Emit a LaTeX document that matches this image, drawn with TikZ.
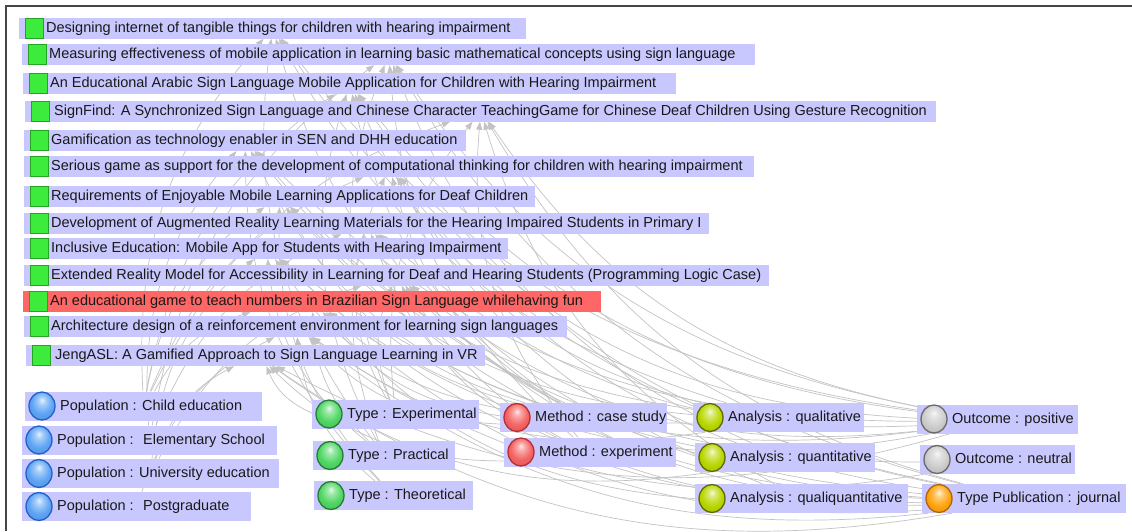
\documentclass[tikz,border=0pt]{standalone}
\usepackage{fontspec}
\setmainfont{Liberation Sans}
\usetikzlibrary{shapes.geometric,arrows.meta,shadings}
\pgfdeclarelayer{bg}
\pgfsetlayers{bg,main}
\definecolor{lav}{RGB}{200,200,255}
\definecolor{redbox}{RGB}{255,102,102}
\definecolor{sqgreen}{RGB}{60,235,60}
\definecolor{sqdark}{RGB}{35,165,35}
\definecolor{edgegray}{RGB}{195,195,195}
\definecolor{framecol}{RGB}{70,70,70}
\definecolor{txtcol}{RGB}{25,25,25}
\definecolor{cblue}{RGB}{95,165,245}\definecolor{bblue}{RGB}{35,95,200}
\definecolor{cgreen}{RGB}{80,215,100}\definecolor{bgreen}{RGB}{35,125,50}
\definecolor{cred}{RGB}{245,100,100}\definecolor{bred}{RGB}{185,45,45}
\definecolor{cyel}{RGB}{185,215,0}\definecolor{byel}{RGB}{95,105,0}
\definecolor{cgray}{RGB}{205,205,205}\definecolor{bgray}{RGB}{105,105,105}
\definecolor{corange}{RGB}{255,165,15}\definecolor{borange}{RGB}{180,100,0}
\colorlet{ballc}{cblue}
\pgfdeclareradialshading[ballc]{gloss}{\pgfpoint{0bp}{11bp}}{%
  color(0bp)=(ballc!15!white); color(7bp)=(ballc!55!white); color(20bp)=(ballc);
  color(34bp)=(ballc!88!black); color(50bp)=(ballc!88!black)}
\tikzset{
  paper/.style={rectangle, anchor=west, inner sep=0pt, minimum height=21},
  sqicon/.style={rectangle, inner sep=0pt, minimum width=18, minimum height=20, fill=sqgreen, draw=sqdark, line width=0.8pt},
  txt/.style={anchor=west, inner sep=0pt, text height=11pt, text depth=3pt, text=txtcol},
  orb/.style={ellipse, inner sep=0pt, minimum width=26, minimum height=28, line width=1.3pt},
  oblue/.style={orb, draw=bblue, /utils/exec={\colorlet{ballc}{cblue}}, shading=gloss},
  ogreen/.style={orb, draw=bgreen, /utils/exec={\colorlet{ballc}{cgreen}}, shading=gloss},
  ored/.style={orb, draw=bred, /utils/exec={\colorlet{ballc}{cred}}, shading=gloss},
  oyel/.style={orb, draw=byel, /utils/exec={\colorlet{ballc}{cyel}}, shading=gloss},
  ogray/.style={orb, draw=bgray, /utils/exec={\colorlet{ballc}{cgray}}, shading=gloss},
  oorange/.style={orb, draw=borange, /utils/exec={\colorlet{ballc}{corange}}, shading=gloss},
  edge/.style={draw=edgegray, line width=0.7pt, -{Triangle[length=8pt,width=6pt,fill=edgegray]}},
}
\newcommand\mkpaper[6][lav]{%
  \node[paper, fill=#1, minimum width=#5] (#2) at (#3,#4) {};
  \node[sqicon] (#2s) at ([xshift=15pt]#2.west) {};
  \node[txt] (#2t) at ([xshift=27pt]#2.west) {#6};
}
\newcommand\mkattr[6]{%
  \node[paper, fill=lav, minimum width=#4, minimum height=29] (#1) at (#2,#3) {};
  \node[#5] (#1b) at ([xshift=17pt]#1.west) {};
  \node[txt] (#1t) at ([xshift=35pt]#1.west) {#6};
}
\begin{document}
\begin{tikzpicture}[x=1pt, y=-1pt, font=\fontsize{14.5}{17}\selectfont]
\useasboundingbox (0,0) rectangle (1132,531);
\begin{pgfonlayer}{bg}
\fill[white] (0,0) rectangle (1132,531);
\end{pgfonlayer}
\draw[framecol, line width=1.5pt] (6,531) -- (6,6) -- (1132,6);

% papers
\mkpaper{p1}{19}{28}{507}{Designing internet of tangible things for children with hearing impairment}
\mkpaper{p2}{22}{54.5}{733}{Measuring effectiveness of mobile application in learning basic mathematical concepts using sign language}
\mkpaper{p3}{23}{83.5}{653}{An Educational Arabic Sign Language Mobile Application for Children with Hearing Impairment}
\mkpaper{p4}{25}{111}{911}{\hspace*{2pt}SignFind: A Synchronized Sign Language and Chinese Character TeachingGame for Chinese Deaf Children Using Gesture Recognition}
\mkpaper{p5}{24}{140.5}{442}{Gamification as technology enabler in SEN and DHH education}
\mkpaper{p6}{24}{166.5}{730}{Serious game as support for the development of computational thinking for children with hearing impairment}
\mkpaper{p7}{24}{196.5}{511}{Requirements of Enjoyable Mobile Learning Applications for Deaf Children}
\mkpaper{p8}{24}{223.5}{685}{Development of Augmented Reality Learning Materials for the Hearing Impaired Students in Primary I}
\mkpaper{p9}{24}{248.5}{484}{Inclusive Education: Mobile App for Students with Hearing Impairment}
\mkpaper{p10}{24}{275}{745}{Extended Reality Model for Accessibility in Learning for Deaf and Hearing Students (Programming Logic Case)}
\mkpaper[redbox]{p11}{23}{301.5}{578}{An educational game to teach numbers in Brazilian Sign Language whilehaving fun}
\mkpaper{p12}{24}{326.5}{543}{Architecture design of a reinforcement environment for learning sign languages}
\mkpaper{p13}{26}{355.5}{459}{\hspace*{2pt}JengASL: A Gamified Approach to Sign Language Learning in VR}

% attributes
\mkattr{pc}{25}{406}{237}{oblue}{Population : Child education}
\mkattr{pe}{22}{440}{255}{oblue}{Population :~ Elementary School}
\mkattr{pu}{22}{473.5}{257}{oblue}{Population : University education}
\mkattr{pg}{22}{506.5}{229}{oblue}{Population :~ Postgraduate}
\mkattr{te}{312}{414}{167}{ogreen}{Type : Experimental}
\mkattr{tp}{313}{455.5}{142}{ogreen}{Type : Practical}
\mkattr{tt}{314}{495.5}{159}{ogreen}{Type : Theoretical}
\mkattr{mc}{500}{417.5}{167}{ored}{Method : case study}
\mkattr{mx}{504}{452}{172}{ored}{Method : experiment}
\mkattr{aql}{693}{417.5}{171}{oyel}{Analysis : qualitative}
\mkattr{aqt}{695}{457.5}{180}{oyel}{Analysis : quantitative}
\mkattr{aqq}{695}{498.5}{213}{oyel}{Analysis : qualiquantitative}
\mkattr{op}{917}{419}{161}{ogray}{Outcome : positive}
\mkattr{on}{920}{459.5}{155}{ogray}{Outcome : neutral}
\mkattr{tj}{922}{498.5}{204}{oorange}{Type Publication : journal}

\begin{pgfonlayer}{bg}
\foreach \s/\t in {
  pc/p1, tp/p1, mc/p1, aql/p1, op/p1, tj/p1,
  pe/p2, te/p2, mx/p2, aqt/p2, op/p2, tj/p2,
  pc/p3, tp/p3, mc/p3, aqq/p3, op/p3, tj/p3,
  pc/p4, te/p4, mx/p4, aqq/p4, op/p4, tj/p4,
  pe/p5, tt/p5, mc/p5, aql/p5, op/p5, tj/p5,
  pc/p6, tp/p6, mc/p6, aql/p6, op/p6, tj/p6,
  pc/p7, tt/p7, mc/p7, aql/p7, on/p7, tj/p7,
  pe/p8, te/p8, mx/p8, aqt/p8, op/p8, tj/p8,
  pu/p9, tp/p9, mc/p9, aql/p9, op/p9, tj/p9,
  pu/p10, te/p10, mx/p10, aqq/p10, op/p10, tj/p10,
  pc/p11, tp/p11, mc/p11, aqq/p11, op/p11, tj/p11,
  pg/p12, tt/p12, mc/p12, aql/p12, on/p12, tj/p12,
  pu/p13, te/p13, mx/p13, aqt/p13, op/p13, tj/p13}
  \draw[edge] (\s) to[bend left=22] (\t);
\end{pgfonlayer}
\end{tikzpicture}
\end{document}
